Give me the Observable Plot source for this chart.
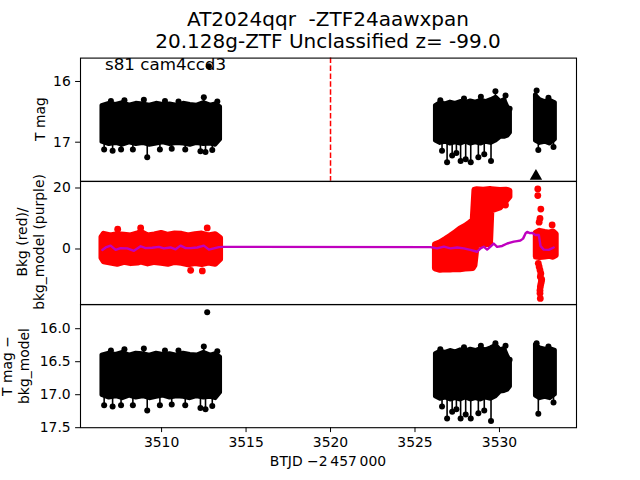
<!DOCTYPE html>
<html><head><meta charset="utf-8">
<script src="https://cdn.jsdelivr.net/npm/d3@7"></script>
<script src="https://cdn.jsdelivr.net/npm/@observablehq/plot@0.6"></script>
<style>
body{margin:0;background:#fff;}
#fig{position:relative;width:640px;height:480px;font-family:"DejaVu Sans",sans-serif;color:#000;overflow:hidden;background:#fff;}
#fig svg{position:absolute;left:0;overflow:visible;}
.lbl{position:absolute;white-space:pre;font-family:"DejaVu Sans",sans-serif;color:#000;}
.rot{transform:translate(-50%,-50%) rotate(-90deg);text-align:center;font-size:13.9px;line-height:16.7px;}
</style></head><body><div id="fig"></div>
<script>
// ---------- text ----------
const titleLines = ["AT2024qqr  -ZTF24aawxpan", "20.128g-ZTF Unclassified z= -99.0"];
const sectorLabel = "s81 cam4ccd3";
const xLabel = "BTJD \u22122\u2009457\u2009000";
const yLabel1 = "T mag";
const yLabel2 = "Bkg (red)/\nbkg_model (purple)";
const yLabel3 = "T mag \u2212\nbkg_model";

// ---------- ticks ----------
const xTicks = [3510, 3515, 3520, 3525, 3530];
const magTicks = [16, 17];
const bkgTicks = [0, 20];
const diffTicks = [16.0, 16.5, 17.0, 17.5];
const tMarker = [3520];

// ---------- panel 1: T mag (dense band envelopes) ----------
const magA_t   = [3506.47,3506.9,3507.3,3507.7,3508.1,3508.5,3508.9,3509.3,3509.7,3510.1,3510.5,3510.9,3511.3,3511.7,3512.1,3512.5,3512.9,3513.2,3513.49];
const magA_top = [16.40,16.36,16.38,16.35,16.39,16.36,16.37,16.39,16.36,16.38,16.37,16.39,16.36,16.38,16.39,16.35,16.39,16.37,16.42];
const magA_bot = [17.00,17.04,17.02,17.05,17.01,17.04,17.02,17.05,17.03,17.01,17.04,17.02,17.03,17.05,17.02,17.04,17.03,17.05,16.96];
const magB_t   = [3526.21,3526.5,3526.8,3527.1,3527.4,3527.7,3528.0,3528.3,3528.6,3528.9,3529.2,3529.5,3529.8,3530.06,3530.3,3530.5,3530.65];
const magB_top = [16.40,16.35,16.37,16.34,16.36,16.33,16.35,16.32,16.34,16.31,16.33,16.30,16.26,16.33,16.30,16.42,16.50];
const magB_bot = [16.98,17.02,17.00,17.03,17.01,17.03,17.00,17.03,17.01,17.03,17.00,17.02,16.98,16.92,16.92,16.90,16.85];
const magC_t   = [3532.13,3532.4,3532.7,3533.0,3533.31];
const magC_top = [16.22,16.30,16.33,16.31,16.35];
const magC_bot = [16.98,17.02,17.00,17.03,16.96];
const spike_t  = [3506.6,3507.1,3507.6,3508.3,3509.15,3509.9,3510.6,3511.4,3512.3,3512.6,3513.0,3507.0,3507.8,3508.95,3510.2,3511.0,3512.5,3513.3,
                  3526.6,3526.9,3527.2,3527.45,3527.7,3528.0,3528.3,3528.75,3529.1,3529.5,3526.5,3527.9,3528.9,3529.76,3530.36,3530.6,
                  3532.2,3532.3,3533.2,3532.9];
const magSpike = [17.12,17.14,17.12,17.12,17.25,17.12,17.11,17.12,17.15,17.16,17.13,16.32,16.31,16.30,16.32,16.33,16.26,16.33,
                  17.14,17.33,17.22,17.18,17.31,17.28,17.33,17.25,17.20,17.31,16.31,16.28,16.25,16.16,16.23,16.45,
                  16.15,17.13,17.08,16.27];
const magOut_t = [3512.8];
const magOut_m = [15.75];
const tri_t = [3532.16];
const tri_m = [17.56];

// ---------- panel 2: background (red) and bkg model (purple) ----------
const bkgA_t  = [3506.47,3506.6,3507.0,3507.4,3507.8,3508.2,3508.6,3508.8,3509.2,3509.6,3510.0,3510.4,3510.8,3511.2,3511.6,3512.0,3512.4,3512.8,3513.2,3513.49];
const bkgA_lo = [-3.0,-4.2,-4.6,-5.0,-4.4,-4.8,-4.6,-4.3,-4.9,-4.4,-4.7,-5.0,-4.4,-4.7,-5.2,-4.8,-5.1,-4.6,-5.0,-3.5];
const bkgA_hi = [3.8,4.8,4.3,4.7,4.5,4.3,5.0,5.4,4.3,4.6,5.1,4.5,4.9,4.8,4.3,4.7,4.9,4.3,4.7,3.5];
const bkgB_t  = [3526.21,3526.51,3526.8,3527.1,3527.4,3527.69,3527.99,3528.28,3528.45,3528.55,3528.68,3529.07,3529.47,3529.55,3530.06,3530.4,3530.62];
const bkgB_lo = [-6.5,-7.0,-6.8,-6.9,-6.7,-6.8,-6.6,-6.5,-6.4,-5.5,1.0,1.5,1.5,12.5,13.5,15.5,17.0];
const bkgB_hi = [1.4,2.0,3.0,4.1,5.3,6.5,7.4,8.5,9.5,19.3,19.4,19.3,19.5,19.4,19.2,19.3,19.0];
const bkgC_t  = [3532.18,3532.4,3532.7,3533.0,3533.2,3533.36];
const bkgC_lo = [-2.6,-2.8,-2.6,-2.4,-2.7,-2.2];
const bkgC_hi = [5.2,5.8,5.4,5.2,5.6,4.8];
const bkgDot_t = [3511.72,3512.41,3508.76,3512.7,3507.4,3529.86,3530.36,3530.2,
                  3532.27,3532.27,3532.45,3532.4,3532.35,3533.12,
                  3532.3,3532.35,3532.4,3532.45,3532.42,3532.5,3532.48,3532.45,3532.42,3532.4,3532.4,3532.42];
const bkgDot_v = [-7.0,-7.2,6.9,6.9,6.5,13.9,14.4,15.5,
                  19.7,17.5,13.1,10.0,8.8,7.9,
                  -4.7,-5.8,-6.9,-8.0,-9.1,-10.0,-10.7,-11.5,-12.4,-13.5,-14.5,-16.2];
const model_t = [3506.49,3506.69,3506.98,3507.28,3507.57,3507.97,3508.36,3508.76,3509.05,3509.45,3509.84,3510.14,3510.53,3510.83,3511.12,3511.42,3511.72,3512.11,3512.50,3512.80,3513.09,3513.39,3513.69,
                 3525.92,3526.31,3526.71,3527.1,3527.5,3527.89,3528.28,3528.68,3528.88,3529.07,3529.27,3529.47,3529.66,3529.86,3530.16,3530.46,3530.85,3531.05,3531.24,3531.4,3531.55,3531.64,3531.8,3531.93,3532.13,3532.33,3532.43,3532.62,3532.92,3533.21];
const model_v = [-0.3,0.5,1.1,-0.3,0.3,0.2,-0.6,0.9,0.3,0.4,0.7,0.2,0.5,-0.1,1.1,0.3,0.3,0.5,1.1,-0.2,0.2,0.6,0.7,
                 0.6,0.2,0.75,0.2,0.5,0.2,-0.3,-0.9,0.2,0.75,-0.2,0.75,1.8,0.7,1.0,1.8,2.4,2.6,2.8,3.4,5.2,5.6,5.2,5.3,4.6,4.6,1.0,-0.2,-0.3,0.5];

// ---------- panel 3: T mag - bkg_model ----------
const difA_top = [16.40,16.37,16.39,16.36,16.40,16.37,16.38,16.40,16.37,16.39,16.38,16.40,16.37,16.39,16.40,16.36,16.40,16.38,16.43];
const difA_bot = [17.01,17.05,17.03,17.06,17.02,17.05,17.03,17.06,17.04,17.02,17.05,17.03,17.04,17.06,17.03,17.05,17.04,17.06,16.97];
const difB_top = [16.38,16.34,16.36,16.33,16.35,16.32,16.34,16.31,16.33,16.30,16.32,16.29,16.25,16.32,16.30,16.42,16.50];
const difB_bot = [17.03,17.07,17.05,17.08,17.06,17.08,17.05,17.08,17.06,17.08,17.05,17.07,17.03,16.96,16.95,16.93,16.88];
const difC_top = [16.24,16.29,16.31,16.30,16.33];
const difC_bot = [17.02,17.06,17.04,17.06,17.00];
const difSpike = [17.16,17.18,17.16,17.16,17.24,17.16,17.15,17.16,17.20,17.22,17.17,16.33,16.31,16.30,16.33,16.33,16.27,16.34,
                  17.18,17.36,17.26,17.22,17.36,17.30,17.36,17.28,17.24,17.40,16.31,16.28,16.26,16.22,16.26,16.47,
                  16.22,17.29,17.12,16.27];
const difOut_t = [3512.7];
const difOut_m = [15.75];

// ---------- build ----------
const zip = (t, a, b) => t.map((x, i) => ({t: x, a: a[i], b: b ? b[i] : undefined}));
const xDomain = [3505.2, 3534.56];
const W = 640, ML = 80, MR = 64;
const baseStyle = {fontFamily: "DejaVu Sans", fontSize: "13.9px", color: "black", background: "transparent", overflow: "visible"};
const fig = document.getElementById("fig");

function band(data, color, sw) {
  return Plot.areaY(data, {x: "t", y1: "a", y2: "b", fill: color, stroke: color, strokeWidth: sw, strokeLinejoin: "round"});
}

// Panel 1
const p1 = Plot.plot({
  width: W, height: 180.8, marginLeft: ML, marginRight: MR, marginTop: 57.6, marginBottom: 0,
  style: baseStyle,
  x: {domain: xDomain, axis: null},
  y: {domain: [15.615, 17.644], reverse: true},
  marks: [
    Plot.ruleX(tMarker, {stroke: "red", strokeWidth: 1.5, strokeDasharray: "5.5,2.4"}),
    band(zip(magA_t, magA_top, magA_bot), "black", 4),
    band(zip(magB_t, magB_top, magB_bot), "black", 4),
    band(zip(magC_t, magC_top, magC_bot), "black", 4),
    Plot.ruleX(zip(spike_t, magSpike), {x: "t", y1: 16.7, y2: "a", stroke: "black", strokeWidth: 1.6}),
    Plot.dot(zip(spike_t, magSpike), {x: "t", y: "a", r: 3, fill: "black"}),
    Plot.dot(zip(magOut_t, magOut_m), {x: "t", y: "a", r: 3, fill: "black"}),
    Plot.dot(zip(tri_t, tri_m), {x: "t", y: "a", r: 4.6, symbol: "triangle", fill: "black"}),
    Plot.axisY({ticks: magTicks, tickSize: 4.9, tickPadding: 4.9, tickFormat: d => String(d), label: null}),
    Plot.frame({stroke: "black", strokeWidth: 1.1})
  ]
});
p1.style.top = "0px";
fig.appendChild(p1);

// Panel 2
const p2 = Plot.plot({
  width: W, height: 123.2, marginLeft: ML, marginRight: MR, marginTop: 0, marginBottom: 0,
  style: baseStyle,
  x: {domain: xDomain, axis: null},
  y: {domain: [-18.26, 22.13]},
  marks: [
    band(zip(bkgA_t, bkgA_lo, bkgA_hi), "#ff0000", 6),
    band(zip(bkgB_t, bkgB_lo, bkgB_hi), "#ff0000", 6),
    band(zip(bkgC_t, bkgC_lo, bkgC_hi), "#ff0000", 6),
    Plot.dot(zip(bkgDot_t, bkgDot_v), {x: "t", y: "a", r: 3.4, fill: "#ff0000"}),
    Plot.line(zip(model_t, model_v), {x: "t", y: "a", stroke: "#bf00bf", strokeWidth: 2.4}),
    Plot.axisY({ticks: bkgTicks, tickSize: 4.9, tickPadding: 4.9, tickFormat: d => String(d), label: null}),
    Plot.frame({stroke: "black", strokeWidth: 1.1})
  ]
});
p2.style.top = "180.8px";
fig.appendChild(p2);

// Panel 3
const p3 = Plot.plot({
  width: W, height: 176, marginLeft: ML, marginRight: MR, marginTop: 0, marginBottom: 52.8,
  style: baseStyle,
  x: {domain: xDomain},
  y: {domain: [15.633, 17.5], reverse: true},
  marks: [
    band(zip(magA_t, difA_top, difA_bot), "black", 4),
    band(zip(magB_t, difB_top, difB_bot), "black", 4),
    band(zip(magC_t, difC_top, difC_bot), "black", 4),
    Plot.ruleX(zip(spike_t, difSpike), {x: "t", y1: 16.7, y2: "a", stroke: "black", strokeWidth: 1.6}),
    Plot.dot(zip(spike_t, difSpike), {x: "t", y: "a", r: 3, fill: "black"}),
    Plot.dot(zip(difOut_t, difOut_m), {x: "t", y: "a", r: 3, fill: "black"}),
    Plot.axisY({ticks: diffTicks, tickSize: 4.9, tickPadding: 4.9, tickFormat: d3.format(".1f"), label: null}),
    Plot.axisX({ticks: xTicks, tickSize: 4.9, tickPadding: 4.9, tickFormat: d => String(d), label: null}),
    Plot.frame({stroke: "black", strokeWidth: 1.1})
  ]
});
p3.style.top = "304px";
fig.appendChild(p3);

// ---------- labels ----------
function addDiv(text, css, cls) {
  const d = document.createElement("div");
  d.className = "lbl " + (cls || "");
  d.textContent = text;
  Object.assign(d.style, css);
  fig.appendChild(d);
  return d;
}
addDiv(titleLines.join("\n"), {left: "80px", width: "496px", top: "9.3px", textAlign: "center", fontSize: "20px", lineHeight: "21.5px"});
addDiv(sectorLabel, {left: "105px", top: "56px", fontSize: "16.7px", lineHeight: "16.7px"});
addDiv(xLabel, {left: "80px", width: "496px", top: "455px", textAlign: "center", fontSize: "13.9px", lineHeight: "13.9px"});
addDiv(yLabel1, {left: "40px", top: "119.2px"}, "rot");
addDiv(yLabel2, {left: "31px", top: "242.4px"}, "rot");
addDiv(yLabel3, {left: "16px", top: "365.6px"}, "rot");
</script></body></html>
